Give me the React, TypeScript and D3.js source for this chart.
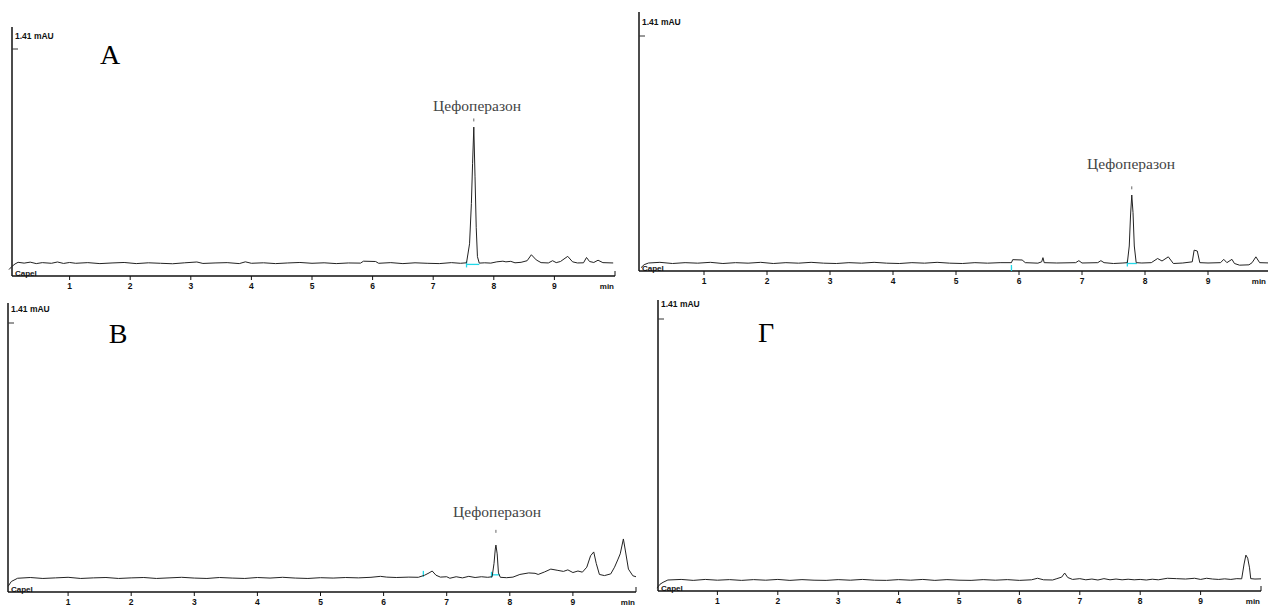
import React from 'react';
import * as d3 from 'd3';

// ---------- data ----------
const timeTicks = [1, 2, 3, 4, 5, 6, 7, 8, 9];
const yTopLabel = '1.41 mAU';
const yTopValue = 1.41;
const timeMax = 10;
const peakName = 'Цефоперазон';
const panelLetters = ['A', '', 'B', 'Г'];

// [time (min), signal (mAU)]
const traceA: [number, number][] = [
  [0.00, 0.040], [0.05, 0.060], [0.10, 0.075], [0.15, 0.085], [0.25, 0.080], [0.35, 0.086],
  [0.45, 0.077], [0.55, 0.083], [0.70, 0.079], [0.80, 0.087], [0.90, 0.078], [1.00, 0.084],
  [1.10, 0.079], [1.30, 0.083], [1.50, 0.077], [1.70, 0.081], [1.90, 0.084], [2.10, 0.077],
  [2.30, 0.082], [2.50, 0.079], [2.70, 0.076], [2.90, 0.082], [3.10, 0.087], [3.20, 0.078],
  [3.40, 0.081], [3.60, 0.083], [3.80, 0.077], [3.90, 0.088], [4.00, 0.079], [4.20, 0.082],
  [4.40, 0.077], [4.60, 0.081], [4.80, 0.084], [5.00, 0.079], [5.20, 0.082], [5.40, 0.077],
  [5.60, 0.081], [5.80, 0.080], [5.85, 0.092], [6.05, 0.090], [6.10, 0.079], [6.30, 0.083],
  [6.50, 0.077], [6.70, 0.082], [6.90, 0.079], [7.10, 0.077], [7.30, 0.083], [7.45, 0.079],
  [7.55, 0.082], [7.60, 0.200], [7.63, 0.450], [7.65, 0.700], [7.67, 0.925], [7.69, 0.620],
  [7.71, 0.300], [7.73, 0.120], [7.76, 0.080], [7.85, 0.082], [7.95, 0.080], [8.05, 0.088],
  [8.15, 0.092], [8.20, 0.088], [8.28, 0.091], [8.35, 0.082], [8.45, 0.085], [8.55, 0.095],
  [8.62, 0.132], [8.70, 0.100], [8.78, 0.083], [8.90, 0.081], [8.97, 0.095], [9.03, 0.083],
  [9.10, 0.090], [9.22, 0.122], [9.30, 0.088], [9.38, 0.081], [9.48, 0.082], [9.53, 0.115],
  [9.58, 0.090], [9.65, 0.084], [9.72, 0.098], [9.80, 0.083], [9.97, 0.081],
];

const traceB: [number, number][] = [
  [0.00, 0.020], [0.05, 0.038], [0.12, 0.048], [0.30, 0.052], [0.50, 0.045], [0.70, 0.050],
  [0.90, 0.047], [1.10, 0.052], [1.30, 0.045], [1.50, 0.050], [1.70, 0.047], [1.90, 0.052],
  [2.10, 0.045], [2.30, 0.050], [2.50, 0.047], [2.70, 0.052], [2.90, 0.047], [3.10, 0.045],
  [3.30, 0.050], [3.50, 0.047], [3.70, 0.052], [3.90, 0.047], [4.10, 0.045], [4.30, 0.050],
  [4.50, 0.047], [4.70, 0.052], [4.90, 0.047], [5.10, 0.045], [5.30, 0.050], [5.50, 0.047],
  [5.70, 0.050], [5.88, 0.050], [5.90, 0.068], [6.05, 0.066], [6.10, 0.050], [6.30, 0.047],
  [6.36, 0.055], [6.38, 0.080], [6.40, 0.050], [6.60, 0.048], [6.90, 0.050], [6.95, 0.062],
  [7.00, 0.048], [7.25, 0.050], [7.30, 0.062], [7.35, 0.050], [7.50, 0.045], [7.65, 0.048],
  [7.72, 0.050], [7.75, 0.150], [7.77, 0.330], [7.79, 0.456], [7.81, 0.350], [7.83, 0.150],
  [7.86, 0.050], [7.95, 0.048], [8.10, 0.050], [8.20, 0.075], [8.27, 0.060], [8.37, 0.085],
  [8.45, 0.045], [8.60, 0.048], [8.75, 0.055], [8.78, 0.125], [8.83, 0.120], [8.87, 0.050],
  [9.00, 0.048], [9.20, 0.050], [9.25, 0.070], [9.30, 0.050], [9.38, 0.070], [9.42, 0.045],
  [9.50, 0.035], [9.65, 0.037], [9.70, 0.050], [9.76, 0.085], [9.82, 0.050], [10.0, 0.048],
];

const traceC: [number, number][] = [
  [0.05, 0.030], [0.10, 0.055], [0.20, 0.072], [0.40, 0.076], [0.60, 0.071], [0.80, 0.074],
  [1.00, 0.077], [1.20, 0.071], [1.40, 0.074], [1.60, 0.076], [1.80, 0.071], [2.00, 0.074],
  [2.20, 0.076], [2.40, 0.071], [2.60, 0.074], [2.80, 0.077], [3.00, 0.073], [3.20, 0.071],
  [3.40, 0.076], [3.60, 0.073], [3.80, 0.071], [4.00, 0.076], [4.20, 0.073], [4.40, 0.077],
  [4.60, 0.073], [4.80, 0.071], [5.00, 0.075], [5.20, 0.073], [5.40, 0.076], [5.60, 0.074],
  [5.80, 0.077], [5.95, 0.082], [6.05, 0.078], [6.20, 0.076], [6.40, 0.078], [6.55, 0.077],
  [6.65, 0.088], [6.72, 0.100], [6.77, 0.110], [6.83, 0.088], [6.90, 0.078], [7.00, 0.080],
  [7.05, 0.072], [7.15, 0.080], [7.25, 0.074], [7.35, 0.082], [7.45, 0.076], [7.55, 0.080],
  [7.65, 0.077], [7.72, 0.080], [7.75, 0.150], [7.77, 0.225], [7.78, 0.246], [7.80, 0.200],
  [7.82, 0.100], [7.85, 0.077], [7.95, 0.075], [8.05, 0.078], [8.16, 0.092], [8.30, 0.100],
  [8.40, 0.098], [8.45, 0.092], [8.55, 0.105], [8.65, 0.120], [8.75, 0.114], [8.85, 0.108],
  [8.92, 0.116], [9.00, 0.102], [9.08, 0.110], [9.15, 0.104], [9.22, 0.130], [9.28, 0.190],
  [9.33, 0.210], [9.37, 0.150], [9.42, 0.092], [9.50, 0.086], [9.60, 0.095], [9.66, 0.130],
  [9.71, 0.168], [9.75, 0.200], [9.80, 0.278], [9.83, 0.220], [9.88, 0.120], [9.95, 0.085],
  [10.0, 0.080],
];

const traceD: [number, number][] = [
  [0.00, 0.015], [0.05, 0.035], [0.10, 0.045], [0.18, 0.057], [0.40, 0.060], [0.60, 0.055],
  [0.80, 0.060], [1.00, 0.056], [1.20, 0.059], [1.40, 0.055], [1.60, 0.059], [1.80, 0.056],
  [2.00, 0.060], [2.20, 0.055], [2.40, 0.059], [2.60, 0.056], [2.80, 0.055], [3.00, 0.059],
  [3.20, 0.056], [3.40, 0.060], [3.60, 0.056], [3.80, 0.055], [4.00, 0.059], [4.20, 0.056],
  [4.40, 0.060], [4.60, 0.055], [4.80, 0.059], [5.00, 0.056], [5.20, 0.055], [5.40, 0.059],
  [5.60, 0.056], [5.80, 0.059], [6.00, 0.055], [6.20, 0.058], [6.30, 0.066], [6.40, 0.058],
  [6.55, 0.057], [6.62, 0.064], [6.70, 0.072], [6.75, 0.093], [6.80, 0.070], [6.88, 0.060],
  [7.00, 0.064], [7.10, 0.058], [7.20, 0.062], [7.30, 0.057], [7.40, 0.064], [7.50, 0.058],
  [7.60, 0.062], [7.70, 0.058], [7.80, 0.061], [7.90, 0.058], [8.00, 0.060], [8.10, 0.057],
  [8.20, 0.061], [8.30, 0.058], [8.45, 0.066], [8.60, 0.064], [8.75, 0.062], [8.90, 0.066],
  [9.00, 0.060], [9.10, 0.066], [9.20, 0.062], [9.30, 0.060], [9.40, 0.063], [9.50, 0.060],
  [9.60, 0.064], [9.68, 0.063], [9.72, 0.140], [9.75, 0.186], [9.78, 0.170], [9.81, 0.120],
  [9.83, 0.064], [9.90, 0.062], [10.0, 0.063],
];

const traces = [traceA, traceB, traceC, traceD];
// retention-time marks above labelled peaks: [time, value]
const rtMarks: ([number, number] | null)[] = [[7.67, 0.96], [7.79, 0.49], [7.78, 0.31], null];
// integration baseline markers (cyan): [tStart, tEnd, value]
const integrations: [number, number, number][][] = [
  [[7.55, 7.76, 0.072]],
  [[7.72, 7.87, 0.045], [5.88, 5.89, 0.018]],
  [[7.71, 7.84, 0.090], [6.63, 6.64, 0.095]],
  [],
];
const showPeakName = [true, true, true, false];

// ---------- layout ----------
const layouts = [
  { x0: 9, x10: 615, axisY: 276, tickY: 49, yAxisX: 12, yAxisTop: 27, topLabelY: 39, letterX: 110, letterY: 64, nameX: 477, nameY: 111 },
  { x0: 641, x10: 1271, axisY: 271, tickY: 36, yAxisX: 639, yAxisTop: 12, topLabelY: 25, letterX: 0, letterY: 0, nameX: 1131, nameY: 169 },
  { x0: 5, x10: 636, axisY: 592, tickY: 323, yAxisX: 8, yAxisTop: 303, topLabelY: 312, letterX: 118, letterY: 343, nameX: 497, nameY: 517 },
  { x0: 657, x10: 1261, axisY: 591, tickY: 319, yAxisX: 658, yAxisTop: 300, topLabelY: 307, letterX: 766, letterY: 342, nameX: 0, nameY: 0 },
];

const sans = 'Liberation Sans, Arial, sans-serif';
const serif = 'Liberation Serif, Times New Roman, serif';

function Panel({ idx }: { idx: number }) {
  const L = layouts[idx];
  const x = d3.scaleLinear().domain([0, timeMax]).range([L.x0, L.x10]);
  const y = d3.scaleLinear().domain([0, yTopValue]).range([L.axisY, L.tickY]);
  const line = d3.line<[number, number]>().x(d => x(d[0])).y(d => y(d[1]));
  const mark = rtMarks[idx];
  return (
    <g>
      {/* y axis */}
      <line x1={L.yAxisX} x2={L.yAxisX} y1={L.yAxisTop} y2={L.axisY} stroke="#111" strokeWidth={1.5} />
      <line x1={L.yAxisX} x2={L.yAxisX + 6} y1={L.tickY} y2={L.tickY} stroke="#333" strokeWidth={1} />
      <text x={L.yAxisX + 3} y={L.topLabelY} fontFamily={sans} fontWeight="bold" fontSize={8.5} fill="#111">{yTopLabel}</text>
      {/* x axis */}
      <line x1={L.yAxisX} x2={x(timeMax)} y1={L.axisY} y2={L.axisY} stroke="#111" strokeWidth={1.5} />
      <line x1={x(timeMax)} x2={x(timeMax)} y1={L.axisY - 5} y2={L.axisY} stroke="#111" strokeWidth={1} />
      {timeTicks.map(t => (
        <g key={t}>
          <line x1={x(t)} x2={x(t)} y1={L.axisY} y2={L.axisY + 4} stroke="#111" strokeWidth={1} />
          <text x={x(t)} y={L.axisY + 13} textAnchor="middle" fontFamily={sans} fontWeight="bold" fontSize={8.5} fill="#111">{t}</text>
        </g>
      ))}
      <text x={Math.min(x(timeMax) - 1, 1266)} y={L.axisY + 13} textAnchor="end" fontFamily={sans} fontWeight="bold" fontSize={8} fill="#111">min</text>
      <text x={L.yAxisX + 3} y={L.axisY - 0.5} fontFamily={sans} fontWeight="bold" fontSize={8} fill="#111">Capel</text>
      {/* integration markers */}
      {integrations[idx].map((m, i) => (
        <g key={i}>
          <line x1={x(m[0])} x2={x(m[1])} y1={y(m[2])} y2={y(m[2])} stroke="#22d8e8" strokeWidth={1.3} />
          <line x1={x(m[0])} x2={x(m[0])} y1={y(m[2]) - 3} y2={y(m[2]) + 3} stroke="#22d8e8" strokeWidth={1.3} />
        </g>
      ))}
      {/* trace */}
      <path d={line(traces[idx]) || ''} fill="none" stroke="#222" strokeWidth={1} />
      {mark && (
        <line x1={x(mark[0])} x2={x(mark[0])} y1={y(mark[1]) - 3} y2={y(mark[1])} stroke="#666" strokeWidth={1} />
      )}
      {showPeakName[idx] && (
        <text x={L.nameX} y={L.nameY} textAnchor="middle" fontFamily={serif} fontSize={15.5} fill="#444">{peakName}</text>
      )}
      {panelLetters[idx] && (
        <text x={L.letterX} y={L.letterY} textAnchor="middle" fontFamily={serif} fontSize={28} fill="#000">{panelLetters[idx]}</text>
      )}
    </g>
  );
}

export default function App() {
  return (
    <svg width={1268} height={608} style={{ position: 'absolute', left: 0, top: 0, background: '#fff' }}>
      <rect width={1268} height={608} fill="#fff" />
      {[0, 1, 2, 3].map(i => <Panel key={i} idx={i} />)}
    </svg>
  );
}
